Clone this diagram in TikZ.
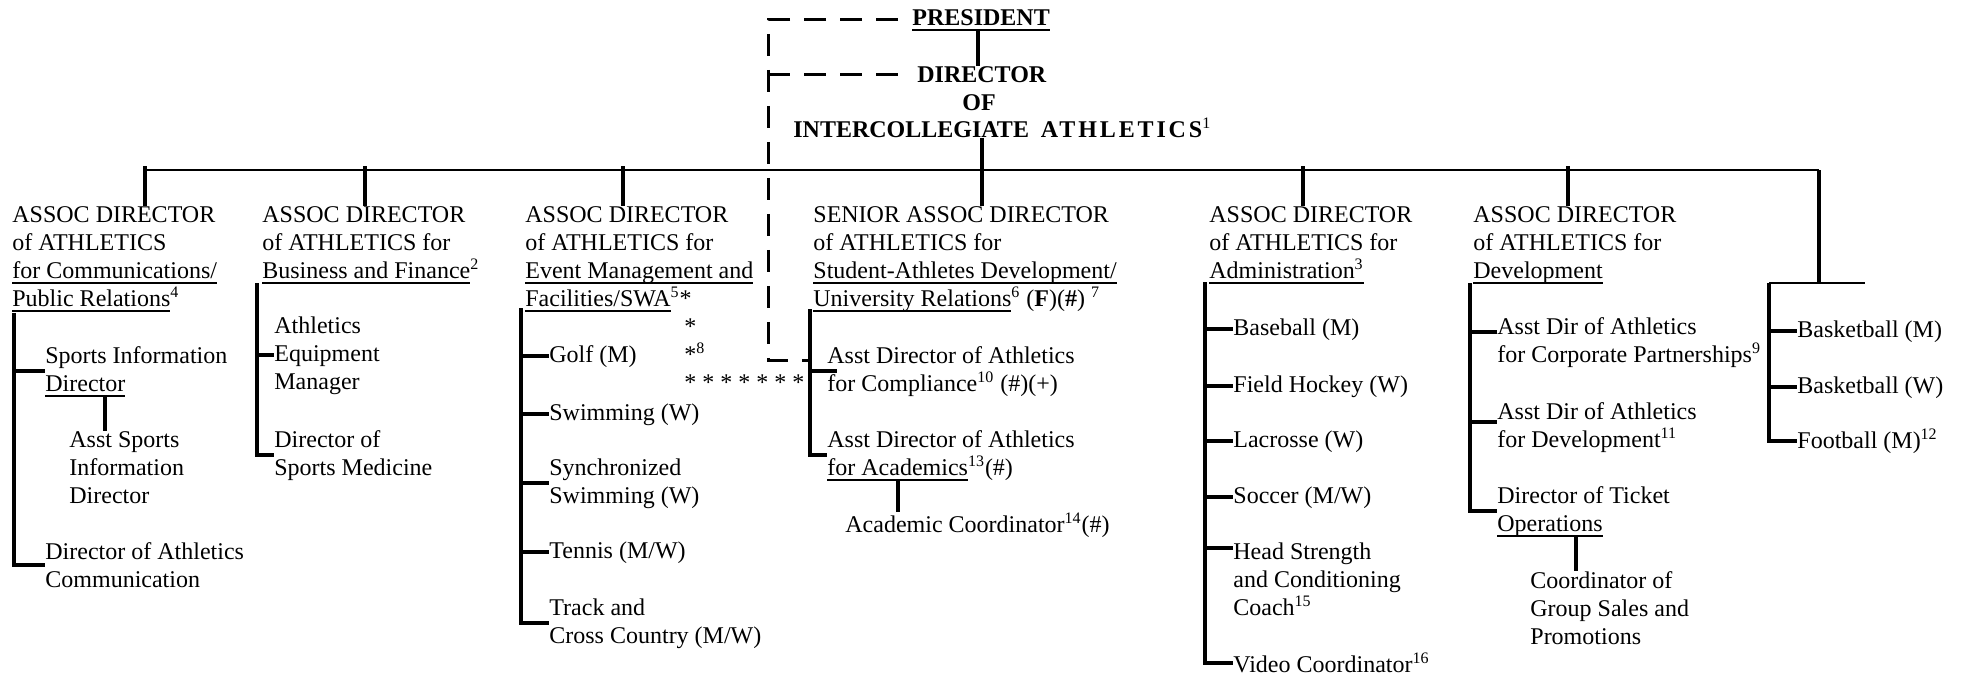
\documentclass[tikz,border=0pt]{standalone}
\usepackage{fontspec}
\setmainfont{Liberation Serif}
\usetikzlibrary{calc}

\newcommand{\ulbox}[1]{\setbox0\hbox{#1}\rlap{\rule[-2.8pt]{\wd0}{0.65pt}}\box0}

\tikzset{
  orgtext/.style={anchor=base west,align=left,inner sep=0pt,font=\fontsize{12}{14}\selectfont},
  boldtext/.style={orgtext,font=\fontsize{12}{14}\selectfont\bfseries},
  thickline/.style={line width=2pt},
  thinline/.style={line width=1pt},
  dashline/.style={line width=1.5pt,dash pattern=on 11pt off 7pt},
}

\begin{document}
\begin{tikzpicture}[x=0.5pt,y=-0.5pt]

\useasboundingbox (0,0) rectangle (1967,677);
\coordinate (LEFTCORNER) at (0,0);

%%%%%%%%%%%%%%%%%%%%%
%draw president + director
%(multi-line nodes sit on the baseline of their last line)

\node[orgtext] at ($(LEFTCORNER)+(912,25)$) (PRES) {\textbf{\ulbox{PRESIDENT}}};
\node[boldtext] at ($(LEFTCORNER)+(917,82)$) (DIR) {DIRECTOR};
\node[boldtext,anchor=base] at ($(LEFTCORNER)+(979,110)$) (DIROF) {OF};
\node[boldtext] at ($(LEFTCORNER)+(793,137)$) (DIRICA) {INTERCOLLEGIATE\hspace{3pt} {\addfontfeature{LetterSpace=12}ATHLETICS}\textsuperscript{\mdseries 1}};

\coordinate (HUB0) at ($(LEFTCORNER)+(978,0)$);
\coordinate (HUB) at ($(LEFTCORNER)+(982,0)$);
\draw[thickline] (PRES.south -| HUB0) -- (DIR.north -| HUB0);

%%%%%%%%%%%%%%%%%%%%%
%draw column heads

\node[orgtext] at ($(LEFTCORNER)+(12,306)$) (HEAD1) {ASSOC DIRECTOR\\of ATHLETICS\\\ulbox{for Communications/}\\\ulbox{Public Relations}\textsuperscript{4}};
\node[orgtext] at ($(LEFTCORNER)+(262,278)$) (HEAD2) {ASSOC DIRECTOR\\of ATHLETICS for\\\ulbox{Business and Finance}\textsuperscript{2}};
\node[orgtext] at ($(LEFTCORNER)+(525,306)$) (HEAD3) {ASSOC DIRECTOR\\of ATHLETICS for\\\ulbox{Event Management and}\\\ulbox{Facilities/SWA}\textsuperscript{5}*};
\node[orgtext] at ($(LEFTCORNER)+(813,306)$) (HEAD4) {SENIOR ASSOC DIRECTOR\\of ATHLETICS for\\\ulbox{Student-Athletes Development/}\\\ulbox{University Relations}\textsuperscript{6} (\textbf{F})(\textbf{\#}) \textsuperscript{7}};
\node[orgtext] at ($(LEFTCORNER)+(1209,278)$) (HEAD5) {ASSOC DIRECTOR\\of ATHLETICS for\\\ulbox{Administration\textsuperscript{3}}};
\node[orgtext] at ($(LEFTCORNER)+(1473,278)$) (HEAD6) {ASSOC DIRECTOR\\of ATHLETICS for\\\ulbox{Development}};

%main line + ticks
\coordinate (MAINL) at ($(LEFTCORNER)+(145,170)$);
\coordinate (MAINR) at ($(LEFTCORNER)+(1819,170)$);
\draw[thinline] (MAINL) -- (MAINR);

\coordinate (T1) at ($(LEFTCORNER)+(145,166)$);
\coordinate (T2) at ($(LEFTCORNER)+(365,166)$);
\coordinate (T3) at ($(LEFTCORNER)+(623,166)$);
\coordinate (T5) at ($(LEFTCORNER)+(1303,166)$);
\coordinate (T6) at ($(LEFTCORNER)+(1568,166)$);
\draw[thickline] (T1) -- (T1 |- HEAD1.north);
\draw[thickline] (T2) -- (T2 |- HEAD2.north);
\draw[thickline] (T3) -- (T3 |- HEAD3.north);
\draw[thickline] (T5) -- (T5 |- HEAD5.north);
\draw[thickline] (T6) -- (T6 |- HEAD6.north);
\draw[thickline] (DIRICA.south -| HUB) -- (HEAD4.north -| HUB);

%%%%%%%%%%%%%%%%%%%%%
%column 1

\node[orgtext] at ($(LEFTCORNER)+(45,391)$) (SID) {Sports Information\\\ulbox{Director}};
\node[orgtext] at ($(LEFTCORNER)+(69,503)$) (ASID) {Asst Sports\\Information\\Director};
\node[orgtext] at ($(LEFTCORNER)+(45,587)$) (DAC) {Director of Athletics\\Communication};

\coordinate (BAR1) at ($(LEFTCORNER)+(14,313)$);
\coordinate (SUB1) at ($(LEFTCORNER)+(105,0)$);
\draw[thickline] (BAR1) |- (DAC.west);
\draw[thickline] (BAR1 |- SID.west) -- (SID.west);
\draw[thickline] (SID.south -| SUB1) -- (ASID.north -| SUB1);

%column 2

\node[orgtext] at ($(LEFTCORNER)+(274,389)$) (AEM) {Athletics\\Equipment\\Manager};
\node[orgtext] at ($(LEFTCORNER)+(274,475)$) (DSM) {Director of\\Sports Medicine};

\coordinate (BAR2) at ($(LEFTCORNER)+(257,283)$);
\draw[thickline] (BAR2) |- (DSM.west);
\draw[thickline] (BAR2 |- AEM.west) -- (AEM.west);

%column 3

\node[orgtext] at ($(LEFTCORNER)+(549,362)$) (GOLF) {Golf (M)};
\node[orgtext] at ($(LEFTCORNER)+(549,420)$) (SWIM) {Swimming (W)};
\node[orgtext] at ($(LEFTCORNER)+(549,503)$) (SYNC) {Synchronized\\Swimming (W)};
\node[orgtext] at ($(LEFTCORNER)+(549,558)$) (TENNIS) {Tennis (M/W)};
\node[orgtext] at ($(LEFTCORNER)+(549,643)$) (TRACK) {Track and\\Cross Country (M/W)};
\node[orgtext] at ($(LEFTCORNER)+(684,390)$) (STARS) {*\\*\textsuperscript{8}\\* * * * * * *};

\coordinate (BAR3) at ($(LEFTCORNER)+(521,308)$);
\draw[thickline] (BAR3) |- (TRACK.west);
\draw[thickline] (BAR3 |- GOLF.west) -- (GOLF.west);
\draw[thickline] (BAR3 |- SWIM.west) -- (SWIM.west);
\draw[thickline] (BAR3 |- SYNC.west) -- (SYNC.west);
\draw[thickline] (BAR3 |- TENNIS.west) -- (TENNIS.west);

%column 4

\node[orgtext] at ($(LEFTCORNER)+(827,391)$) (COMPL) {Asst Director of Athletics\\for Compliance\textsuperscript{10} (\#)(+)};
\node[orgtext] at ($(LEFTCORNER)+(827,475)$) (ACAD) {Asst Director of Athletics\\\ulbox{for Academics}\textsuperscript{13}(\#)};
\node[orgtext] at ($(LEFTCORNER)+(845,532)$) (ACOORD) {Academic Coordinator\textsuperscript{14}(\#)};

\coordinate (BAR4) at ($(LEFTCORNER)+(810,309)$);
\coordinate (SUB4) at ($(LEFTCORNER)+(898,0)$);
\draw[thickline] (BAR4) |- (ACAD.west);
\draw[thickline] (BAR4 |- COMPL.west) -- ([xshift=5pt]COMPL.west);
\draw[thickline] (ACAD.south -| SUB4) -- (ACOORD.north -| SUB4);

%column 5

\node[orgtext] at ($(LEFTCORNER)+(1233,335)$) (BASE) {Baseball (M)};
\node[orgtext] at ($(LEFTCORNER)+(1233,392)$) (FHOCK) {Field Hockey (W)};
\node[orgtext] at ($(LEFTCORNER)+(1233,447)$) (LAX) {Lacrosse (W)};
\node[orgtext] at ($(LEFTCORNER)+(1233,503)$) (SOCCER) {Soccer (M/W)};
\node[orgtext] at ($(LEFTCORNER)+(1233,615)$) (HSC) {Head Strength\\and Conditioning\\Coach\textsuperscript{15}};
\node[orgtext] at ($(LEFTCORNER)+(1233,672)$) (VIDEO) {Video Coordinator\textsuperscript{16}};
\coordinate (HSCB) at ([yshift=33.5pt]HSC.base west);

\coordinate (BAR5) at ($(LEFTCORNER)+(1205,282)$);
\draw[thickline] (BAR5) |- (VIDEO.west);
\draw[thickline] (BAR5 |- BASE.west) -- (BASE.west);
\draw[thickline] (BAR5 |- FHOCK.west) -- (FHOCK.west);
\draw[thickline] (BAR5 |- LAX.west) -- (LAX.west);
\draw[thickline] (BAR5 |- SOCCER.west) -- (SOCCER.west);
\draw[thickline] (BAR5 |- HSCB) -- (HSCB);

%column 6

\node[orgtext] at ($(LEFTCORNER)+(1497,362)$) (CORP) {Asst Dir of Athletics\\for Corporate Partnerships\textsuperscript{9}};
\node[orgtext] at ($(LEFTCORNER)+(1497,447)$) (DEVEL) {Asst Dir of Athletics\\for Development\textsuperscript{11}};
\node[orgtext] at ($(LEFTCORNER)+(1497,531)$) (TICKET) {Director of Ticket\\\ulbox{Operations}};
\node[orgtext] at ($(LEFTCORNER)+(1530,644)$) (GROUP) {Coordinator of\\Group Sales and\\Promotions};
\coordinate (CORPB) at ([yshift=15pt]CORP.base west);
\coordinate (DEVELB) at ([yshift=12.5pt]DEVEL.base west);

\coordinate (BAR6) at ($(LEFTCORNER)+(1470,283)$);
\coordinate (SUB6) at ($(LEFTCORNER)+(1576,0)$);
\draw[thickline] (BAR6) |- (TICKET.west);
\draw[thickline] (BAR6 |- CORPB) -- (CORPB);
\draw[thickline] (BAR6 |- DEVELB) -- (DEVELB);
\draw[thickline] (TICKET.south -| SUB6) -- (GROUP.north -| SUB6);

%column 7

\node[orgtext] at ($(LEFTCORNER)+(1797,337)$) (BBM) {Basketball (M)};
\node[orgtext] at ($(LEFTCORNER)+(1797,393)$) (BBW) {Basketball (W)};
\node[orgtext] at ($(LEFTCORNER)+(1797,448)$) (FOOT) {Football (M)\textsuperscript{12}};

\coordinate (BAR7) at ($(LEFTCORNER)+(1769,283)$);
\coordinate (BAR7END) at ($(LEFTCORNER)+(1865,283)$);
\draw[thickline] (MAINR) -- (MAINR |- BAR7);
\draw[thinline] (BAR7) -- (BAR7END);
\draw[thickline] (BAR7) |- (FOOT.west);
\draw[thickline] (BAR7 |- BBM.west) -- (BBM.west);
\draw[thickline] (BAR7 |- BBW.west) -- (BBW.west);

%%%%%%%%%%%%%%%%%%%%%
%dashed line from president

\coordinate (DASHBOT) at ($(LEFTCORNER)+(768,360)$);
\draw[dashline] ([xshift=-7pt]PRES.west) -| (DASHBOT) -- (DASHBOT -| BAR4);
\draw[dashline] (DASHBOT |- DIR.west) -- ([xshift=-9pt]DIR.west);

\end{tikzpicture}
\end{document}
